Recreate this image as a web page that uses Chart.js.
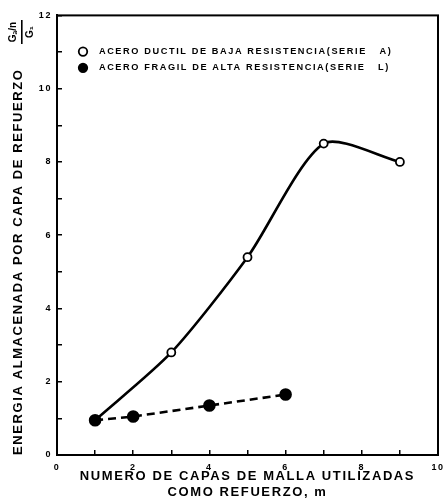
<!DOCTYPE html>
<html>
<head>
<meta charset="utf-8">
<script src="https://cdn.jsdelivr.net/npm/chart.js@4"></script>
<style>
  html, body { margin: 0; padding: 0; background: #fff; }
  #wrap { width: 448px; height: 504px; }
</style>
</head>
<body>
<div id="wrap"><canvas id="energyChart" width="448" height="504"></canvas></div>
<script>
// data
const layersA = [1, 3, 5, 7, 9];
const energyA = [0.95, 2.8, 5.4, 8.5, 8.0];
const layersL = [1, 2, 4, 6];
const energyL = [0.95, 1.05, 1.35, 1.65];
const xTickLabels = ['0', '2', '4', '6', '8', '10'];
const yTickLabels = ['0', '2', '4', '6', '8', '10', '12'];
const seriesNames = [
  'ACERO DUCTIL DE BAJA RESISTENCIA(SERIE   A)',
  'ACERO FRAGIL DE ALTA RESISTENCIA(SERIE   L)'
];

const toPoints = (xs, ys) => xs.map((x, i) => ({ x: x, y: ys[i] }));
const FONT = "'Liberation Sans', Arial, sans-serif";

// letter spacing for the stencil look (canvas state is reset on resize)
const spacing = {
  id: 'spacing',
  beforeLayout(chart) { chart.ctx.letterSpacing = '1.6px'; },
  beforeDraw(chart) { chart.ctx.letterSpacing = '1.6px'; }
};

// frame round the plot and the G ratio at top of y title
const frame = {
  id: 'frame',
  afterLayout(chart) {
    // move the in-plot legend down and right
    chart.legend.left += 16;
    chart.legend.top += 40;
  },
  afterDraw(chart) {
    const { ctx, chartArea: a } = chart;
    ctx.save();
    ctx.strokeStyle = '#000';
    ctx.lineWidth = 2;
    ctx.strokeRect(a.left, a.top, a.right - a.left, a.bottom - a.top);

    ctx.fillStyle = '#000';
    ctx.textAlign = 'center';
    ctx.textBaseline = 'middle';
    ctx.translate(22, 32);
    ctx.rotate(-Math.PI / 2);
    ctx.font = 'bold 10px ' + FONT;
    ctx.letterSpacing = '0px';
    ctx.fillText('Gₐ/n', 0, -9);
    ctx.fillText('G₁', 0, 8);
    ctx.fillRect(-12, -1, 24, 1.6);
    ctx.restore();
  }
};

new Chart(document.getElementById('energyChart'), {
  type: 'line',
  data: {
    datasets: [
      {
        label: seriesNames[0],
        data: toPoints(layersA, energyA),
        borderColor: '#000',
        backgroundColor: '#fff',
        borderWidth: 2.6,
        tension: 0.25,
        pointRadius: 4,
        pointBorderWidth: 1.8,
        pointBackgroundColor: '#fff',
        pointBorderColor: '#000',
        pointStyle: 'circle',
        fill: false,
        order: 2
      },
      {
        label: seriesNames[1],
        data: toPoints(layersL, energyL),
        borderColor: '#000',
        backgroundColor: '#000',
        borderWidth: 2.6,
        borderDash: [8, 5],
        tension: 0,
        pointRadius: 5,
        pointBackgroundColor: '#000',
        pointBorderColor: '#000',
        pointStyle: 'circle',
        fill: false,
        order: 1
      }
    ]
  },
  options: {
    responsive: false,
    animation: false,
    layout: { padding: { left: 4, top: 13, right: 10, bottom: 4 } },
    plugins: {
      tooltip: { enabled: false },
      legend: {
        position: 'chartArea',
        align: 'start',
        labels: {
          color: '#000',
          font: { family: FONT, size: 9.2, weight: 'bold' },
          usePointStyle: true,
          boxWidth: 6,
          boxHeight: 6,
          padding: 7,
          sort: (a, b) => a.datasetIndex - b.datasetIndex,
          generateLabels(chart) {
            const items = Chart.defaults.plugins.legend.labels.generateLabels(chart);
            items.forEach(it => { it.lineDash = []; it.lineWidth = 1.8; it.text = '  ' + it.text; });
            return items;
          }
        }
      }
    },
    scales: {
      x: {
        type: 'linear',
        min: 0,
        max: 10,
        afterFit(scale) {
          scale.height = 45;
          scale.paddingLeft = 0;
          scale.paddingRight = 0;
        },
        border: { display: true, color: '#000', width: 2 },
        grid: { drawOnChartArea: false, drawTicks: true, tickLength: -5, color: '#000', lineWidth: 1.5 },
        ticks: {
          stepSize: 1,
          autoSkip: false,
          maxRotation: 0,
          padding: 12,
          color: '#000',
          font: { family: FONT, size: 9, weight: 'bold' },
          callback: v => xTickLabels.includes(String(v)) ? String(v) : ''
        },
        title: {
          display: true,
          text: ['NUMERO DE CAPAS DE MALLA UTILIZADAS', 'COMO REFUERZO, m'],
          color: '#000',
          font: { family: FONT, size: 13, weight: 'bold', lineHeight: 1.23 },
          padding: { top: 0, bottom: 0 }
        }
      },
      y: {
        type: 'linear',
        min: 0,
        max: 12,
        afterFit(scale) { scale.width = 53; },
        border: { display: true, color: '#000', width: 2 },
        grid: { drawOnChartArea: false, drawTicks: true, tickLength: -5, color: '#000', lineWidth: 1.5 },
        ticks: {
          stepSize: 1,
          autoSkip: false,
          padding: 10,
          color: '#000',
          font: { family: FONT, size: 9, weight: 'bold' },
          callback: v => yTickLabels.includes(String(v)) ? String(v) : ''
        },
        title: {
          display: true,
          align: 'start',
          text: 'ENERGIA ALMACENADA POR CAPA DE REFUERZO',
          color: '#000',
          font: { family: FONT, size: 13, weight: 'bold' },
          padding: { top: 7, bottom: 0 }
        }
      }
    }
  },
  plugins: [spacing, frame]
});
</script>
</body>
</html>
